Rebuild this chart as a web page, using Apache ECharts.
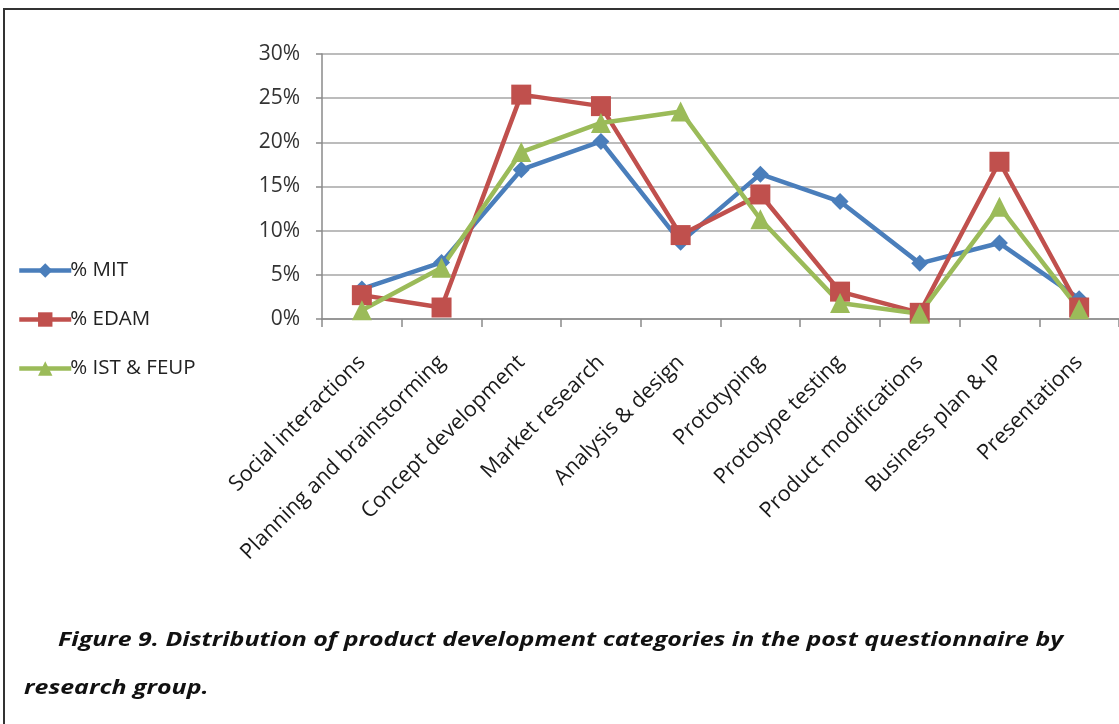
<!DOCTYPE html>
<html><head><meta charset="utf-8">
<script src="https://cdn.jsdelivr.net/npm/echarts@6/dist/echarts.min.js"></script>
<style>html,body{margin:0;padding:0;background:#fff}#c{width:1119px;height:724px}</style>
</head><body><div id="c"></div>
<script>
const categories = ["Social interactions","Planning and brainstorming","Concept development","Market research","Analysis & design","Prototyping","Prototype testing","Product modifications","Business plan & IP","Presentations"];
const mit  = [3.4, 6.4, 16.9, 20.1, 8.7, 16.4, 13.3, 6.3, 8.6, 2.3];
const edam = [2.7, 1.3, 25.4, 24.1, 9.5, 14.1, 3.1, 0.7, 17.8, 1.3];
const ist  = [1.0, 5.8, 18.9, 22.2, 23.5, 11.3, 1.8, 0.6, 12.7, 1.1];
const seriesNames = ["% MIT", "% EDAM", "% IST & FEUP"];
const yTicks = [0, 5, 10, 15, 20, 25, 30];
const caption1 = "Figure 9. Distribution of product development categories in the post questionnaire by";
const caption2 = "research group.";

const chart = echarts.init(document.getElementById('c'));
const font = "'Open Sans', 'Liberation Sans', Arial, sans-serif";
function mk(name, data, color, symbol, size) {
  return {
    name, type: 'line', data, symbol, symbolSize: size,
    lineStyle: { width: 4.5, color }, itemStyle: { color },
    emphasis: { disabled: true }, animation: false
  };
}
chart.setOption({
  animation: false,
  grid: { left: 322, top: 54, right: -3, bottom: 405, containLabel: false },
  legend: {
    orient: 'vertical', left: 12, top: 255, itemWidth: 52, itemHeight: 18, itemGap: 28,
    lineStyle: { width: 4.5 },
    textStyle: { fontFamily: font, fontSize: 20.5, color: '#222', padding: [0, 0, 0, -6] },
    data: seriesNames
  },
  xAxis: {
    type: 'category', data: categories, boundaryGap: true,
    axisLine: { lineStyle: { color: '#8a8a8a', width: 1.5 } },
    axisTick: { show: true, length: 8, lineStyle: { color: '#8a8a8a', width: 1.5 } },
    axisLabel: { rotate: 45, fontFamily: font, fontSize: 21.5, color: '#1a1a1a', margin: 40, interval: 0 }
  },
  yAxis: {
    type: 'value', min: yTicks[0], max: yTicks[yTicks.length - 1], interval: 5,
    axisLine: { show: true, lineStyle: { color: '#8a8a8a', width: 1.5 } },
    axisTick: { show: true, length: 6, lineStyle: { color: '#8a8a8a', width: 1.5 } },
    splitLine: { lineStyle: { color: '#a6a6a6', width: 1.5 } },
    axisLabel: { formatter: '{value}%', fontFamily: font, fontSize: 21, color: '#333', margin: 22 }
  },
  series: [
    mk(seriesNames[0], mit, '#4a7ebb', 'diamond', 17),
    mk(seriesNames[1], edam, '#c0504d', 'rect', 20),
    mk(seriesNames[2], ist, '#9bbb59', 'triangle', 20)
  ],
  graphic: [
    { type: 'rect', shape: { x: 4, y: 9, width: 1200, height: 800 }, style: { fill: 'none', stroke: '#333', lineWidth: 2 }, silent: true },
    { type: 'text', x: 58, y: 630, scaleX: 1.247, style: { text: caption1, font: "italic bold 20px 'Open Sans', sans-serif", fill: '#111' } },
    { type: 'text', x: 24, y: 678, scaleX: 1.247, style: { text: caption2, font: "italic bold 20px 'Open Sans', sans-serif", fill: '#111' } }
  ]
});
</script></body></html>
